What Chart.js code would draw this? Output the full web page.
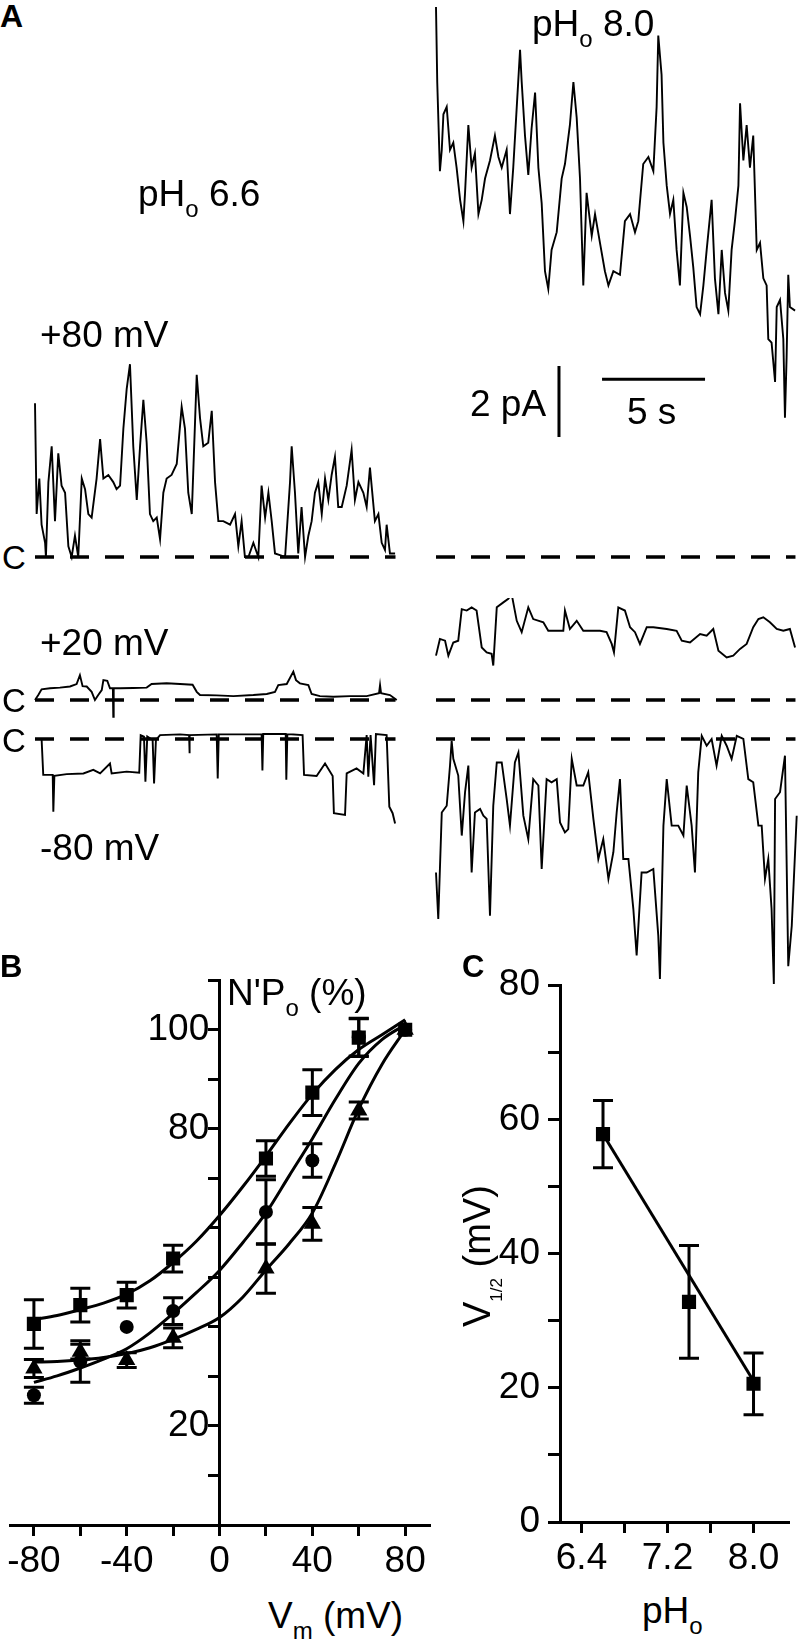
<!DOCTYPE html>
<html>
<head>
<meta charset="utf-8">
<script src="https://cdn.jsdelivr.net/npm/chart.js@4.4.1/dist/chart.umd.min.js"></script>
<style>
  html, body { margin: 0; padding: 0; background: #fff; }
  #fig { position: relative; width: 799px; height: 1639px; overflow: hidden; background: #fff;
         font-family: "Liberation Sans", Arial, Helvetica, sans-serif; color: #000; }
  #fig canvas { position: absolute; }
  .lbl { position: absolute; white-space: nowrap; line-height: 1; z-index: 5; }
  .lbl .sub { position: relative; }
</style>
</head>
<body>
<div id="fig"></div>
<script>
// ---- DATA ----

// panel A, single channel traces: [time (s), current (pA)] relative to closed level
const trace66p80 = [[0,4.33],[0.08,1.21],[0.21,2.21],[0.32,0.91],[0.49,0.40],[0.53,0],[0.65,2.11],[0.81,3.12],[0.97,1.01],[1.13,2.92],[1.29,2.01],[1.46,1.81],[1.62,0.30],[1.78,0],[1.94,0.60],[2.10,0],[2.27,2.21],[2.43,1.91],[2.59,1.21],[2.75,1.11],[2.99,2.21],[3.16,3.32],[3.32,2.21],[3.56,2.31],[3.80,2.11],[3.96,1.91],[4.13,2.01],[4.29,3.62],[4.45,4.73],[4.61,5.43],[4.77,3.12],[4.94,1.61],[5.10,3.12],[5.26,4.43],[5.42,3.22],[5.58,1.21],[5.74,1.01],[5.91,1.11],[6.07,0.50],[6.23,1.81],[6.39,2.21],[6.63,2.31],[6.88,2.62],[7.12,4.23],[7.28,3.62],[7.44,1.81],[7.61,1.21],[7.77,3.82],[7.85,5.13],[8.01,3.92],[8.17,3.12],[8.41,3.22],[8.58,4.12],[8.74,2.11],[8.90,1.01],[9.14,1.01],[9.47,0.91],[9.71,1.21],[9.87,0.30],[10.03,1.01],[10.19,0],[10.36,0],[10.60,0.40],[10.84,0],[11.00,2.01],[11.17,1.11],[11.33,1.81],[11.49,1.01],[11.65,0.10],[11.89,0.05],[12.14,0],[12.38,2.11],[12.46,3.12],[12.62,1.81],[12.78,0.10],[12.94,1.41],[13.11,0],[13.27,0.60],[13.43,1.01],[13.59,1.81],[13.75,2.11],[13.92,1.21],[14.08,2.21],[14.24,1.61],[14.40,2.31],[14.56,2.82],[14.72,1.41],[14.89,1.41],[15.13,2.01],[15.37,3.02],[15.53,1.61],[15.70,2.11],[15.94,1.81],[16.10,1.41],[16.26,2.52],[16.50,1.01],[16.67,1.21],[16.83,0.40],[16.99,0.20],[17.07,0.91],[17.23,0.10],[17.48,0.10]];

const trace80p80 = [[0,15.49],[0.06,13.38],[0.19,10.87],[0.28,11.47],[0.36,12.47],[0.52,12.68],[0.68,11.47],[0.84,11.67],[1.00,10.97],[1.17,10.06],[1.33,9.46],[1.41,10.26],[1.57,12.17],[1.73,10.97],[1.89,11.37],[2.06,9.66],[2.22,10.06],[2.38,10.66],[2.62,11.17],[2.86,11.87],[3.03,11.27],[3.19,10.97],[3.43,11.47],[3.59,9.66],[3.75,10.97],[3.92,12.68],[4.08,14.29],[4.16,13.38],[4.32,11.87],[4.48,10.76],[4.64,12.07],[4.81,13.08],[4.97,10.97],[5.13,9.96],[5.29,8.05],[5.45,7.55],[5.61,8.65],[5.86,9.15],[6.10,10.66],[6.26,11.07],[6.50,12.17],[6.67,13.38],[6.83,12.37],[6.99,10.66],[7.15,7.65],[7.31,10.26],[7.56,9.05],[7.72,9.66],[7.96,8.85],[8.20,8.05],[8.37,7.65],[8.61,8.05],[8.93,7.95],[9.17,9.46],[9.42,9.66],[9.66,9.15],[9.82,9.46],[10.06,11.07],[10.31,11.27],[10.55,10.87],[10.71,12.68],[10.79,14.69],[10.95,13.58],[11.04,11.67],[11.20,10.46],[11.36,9.66],[11.52,10.06],[11.68,8.65],[11.84,7.65],[12.01,10.26],[12.17,9.86],[12.33,9.05],[12.49,8.15],[12.65,7.04],[12.82,6.84],[12.98,7.65],[13.14,8.65],[13.38,10.06],[13.54,7.85],[13.71,6.84],[13.87,8.65],[14.03,7.44],[14.19,6.94],[14.35,8.65],[14.51,9.46],[14.68,10.46],[14.76,12.78],[14.92,11.17],[15.08,12.17],[15.24,10.97],[15.40,11.87],[15.57,8.65],[15.73,8.85],[15.89,7.85],[16.05,7.65],[16.13,6.14],[16.29,6.04],[16.46,4.93],[16.54,7.04],[16.70,7.24],[16.86,6.14],[16.94,3.92],[17.02,5.63],[17.10,7.95],[17.18,7.04],[17.43,6.94]];

const trace66p20 = [[0,0],[0.16,0.14],[0.32,0.30],[0.73,0.33],[1.21,0.35],[1.70,0.38],[2.02,0.45],[2.18,0.70],[2.31,0.39],[2.51,0.38],[2.75,0.23],[2.91,0],[3.07,0.14],[3.24,0.28],[3.32,0.56],[3.51,0.54],[3.64,0.33],[3.78,0.33],[3.80,-0.47],[3.82,0.33],[4.13,0.33],[4.77,0.34],[5.42,0.35],[5.66,0.45],[6.39,0.47],[7.04,0.45],[7.65,0.43],[7.85,0.23],[8.01,0.14],[8.82,0.13],[9.63,0.11],[10.60,0.14],[11.25,0.17],[11.65,0.23],[11.81,0.42],[12.22,0.45],[12.54,0.80],[12.67,0.56],[12.86,0.47],[13.27,0.42],[13.43,0.17],[13.83,0.11],[14.48,0.09],[15.29,0.11],[16.10,0.11],[16.70,0.19],[16.75,0.42],[16.80,0.19],[17.23,0.14],[17.56,0]];

const trace80p20 = [[0,1.25],[0.19,1.72],[0.44,1.67],[0.60,1.25],[0.84,1.62],[1.08,1.67],[1.25,2.56],[1.49,2.52],[1.73,2.61],[1.97,2.52],[2.22,1.48],[2.46,1.34],[2.70,1.30],[2.78,0.97],[2.95,2.61],[3.27,2.75],[3.51,2.85],[3.67,2.99],[3.92,2.23],[4.16,1.91],[4.48,2.61],[4.72,2.28],[5.21,2.19],[5.45,1.95],[6.18,1.95],[6.26,2.52],[6.50,2.00],[6.83,2.23],[7.15,1.95],[7.96,1.95],[8.28,1.91],[8.53,1.58],[8.64,1.34],[8.85,2.61],[9.17,2.52],[9.42,2.05],[9.66,1.91],[9.90,1.58],[10.23,2.05],[10.55,2.05],[11.20,2.00],[11.68,1.95],[11.93,1.67],[12.33,1.62],[12.82,1.86],[13.14,1.81],[13.46,2.00],[13.71,1.39],[14.11,1.20],[14.43,1.25],[14.76,1.44],[15.08,1.58],[15.40,2.05],[15.65,2.28],[15.89,2.33],[16.21,2.19],[16.54,2.00],[16.86,1.95],[17.18,2.00],[17.43,1.48]];

const trace66m80 = [[0,0],[0.32,0],[0.40,-1.01],[0.86,-1.01],[0.89,-2.05],[0.94,-1.04],[1.54,-0.99],[2.35,-0.97],[2.83,-0.87],[3.16,-0.97],[3.64,-0.69],[3.72,-0.97],[4.45,-0.92],[5.06,-0.95],[5.13,0.11],[5.29,0.07],[5.36,-1.20],[5.45,0.07],[5.71,-0.03],[5.78,-1.25],[5.87,-0.03],[6.07,0.11],[7.04,0.13],[7.48,0.11],[7.49,-0.40],[7.52,0.11],[8.82,0.13],[8.87,-1.11],[8.92,0.13],[11.00,0.14],[11.04,-0.89],[11.08,0.14],[12.17,0.14],[12.20,-1.15],[12.25,0.14],[12.99,0.11],[13.06,-1.01],[13.67,-1.04],[14.08,-0.69],[14.45,-1.04],[14.51,-2.09],[15.05,-2.14],[15.13,-0.97],[15.61,-0.83],[15.94,-0.97],[16.10,0.11],[16.18,-1.06],[16.29,0.11],[16.46,-1.30],[16.55,0.14],[17.07,0.11],[17.20,-1.91],[17.36,-2.09],[17.48,-2.38]];

const trace80m80 = [[0,-3.76],[0.11,-5.07],[0.28,-2.07],[0.52,-1.88],[0.68,-0.75],[0.76,-0.05],[0.84,-0.56],[1.08,-1.03],[1.25,-2.72],[1.41,-1.50],[1.57,-0.75],[1.73,-3.76],[1.89,-2.07],[2.14,-1.97],[2.30,-2.16],[2.46,-2.25],[2.62,-4.98],[2.78,-1.88],[2.95,-0.66],[3.19,-0.66],[3.43,-1.69],[3.59,-2.44],[3.83,-0.66],[4.00,-0.38],[4.24,-2.16],[4.48,-2.82],[4.72,-1.13],[4.97,-1.31],[5.13,-3.66],[5.37,-1.13],[5.61,-1.22],[5.86,-1.13],[6.02,-2.35],[6.26,-2.63],[6.42,-2.54],[6.59,-0.56],[6.83,-1.31],[7.15,-1.31],[7.39,-0.94],[7.64,-2.25],[7.88,-3.38],[8.12,-2.82],[8.37,-3.94],[8.61,-3.19],[8.77,-2.07],[8.93,-1.13],[9.09,-3.38],[9.34,-3.38],[9.58,-4.79],[9.74,-6.10],[9.98,-3.76],[10.23,-3.76],[10.55,-3.66],[10.79,-5.54],[10.87,-6.76],[11.04,-2.44],[11.20,-1.13],[11.44,-2.44],[11.76,-2.44],[12.01,-2.72],[12.17,-1.31],[12.41,-2.44],[12.57,-3.76],[12.73,-0.94],[12.90,0.09],[13.14,-0.19],[13.38,0],[13.62,-0.75],[13.87,0.09],[14.11,-0.19],[14.35,-0.56],[14.60,0.09],[14.92,0],[15.16,-1.13],[15.40,-1.22],[15.65,-2.44],[15.81,-2.44],[15.97,-3.94],[16.13,-3.38],[16.29,-4.79],[16.40,-6.90],[16.46,-1.69],[16.70,-1.50],[16.94,-0.47],[17.10,-6.40],[17.27,-5.26],[17.51,-2.16]];

// panel B, N'Po (%) vs Vm (mV)
const vmPoints = [-80, -60, -40, -20, 20, 40, 60, 80];
const npoSquare = [40.6, 44.4, 46.4, 53.8, 74.0, 87.3, 98.4, 100];
const npoSquareErr = [4.9, 3.4, 2.6, 2.7, 3.6, 4.6, 3.8, 0];
const npoCircle = [26.2, 33.0, 40.0, 43.2, 63.2, 73.6, 98.5, 100];
const npoCircleErr = [1.6, 4.2, 0, 2.7, 6.5, 3.4, 3.8, 0];
const npoTriangle = [31.6, 35.0, 33.3, 37.8, 51.8, 60.8, 83.7, 100];
const npoTriangleErr = [1.8, 1.5, 1.5, 2.0, 5.0, 3.3, 1.7, 0];

const vmFit = [-80, -70, -60, -50, -40, -30, -20, -10, 0, 10, 20, 30, 40, 50, 60, 70, 80];
const fitSquare = [41.5, 42.3, 43.5, 44.8, 46.6, 49.3, 53.0, 57.3, 62.5, 68.3, 74.5, 81.0, 87.0, 92.0, 96.0, 99.0, 102.0];
const fitCircle = [28.8, 30.1, 31.7, 33.5, 35.6, 38.8, 42.7, 46.9, 51.4, 57.0, 63.0, 70.5, 78.0, 86.0, 93.2, 98.0, 101.0];
const fitTriangle = [32.9, 33.0, 33.3, 33.8, 34.6, 35.8, 37.5, 39.5, 41.9, 46.0, 51.5, 56.8, 63.0, 73.0, 84.0, 93.0, 100.0];

// panel C, V1/2 (mV) vs pHo
const phPoints = [6.6, 7.4, 8.0];
const vHalf = [57.8, 32.8, 20.6];
const vHalfErr = [5.0, 8.4, 4.6];
const phFit = [6.6, 8.0];
const vHalfFit = [57.8, 21.0];

// ---- LAYOUT ----
const FONT = '"Liberation Sans", Arial, Helvetica, sans-serif';
Chart.defaults.font.family = FONT;
Chart.defaults.font.size = 37;
Chart.defaults.color = '#000';

const fig = document.getElementById('fig');
const PX_PER_S = 20.6;
const PX_PER_PA = 35.5;

const cols = {
  left:  { left: 28,  width: 376, x0: 35,  dashEnd: 17.5 },
  right: { left: 429, width: 370, x0: 436, dashEnd: 17.45 }
};
const rows = {
  p80: { top: 0,   height: 578, closedY: 557 },
  p20: { top: 598, height: 130, closedY: 700 },
  m80: { top: 728, height: 265, closedY: 739 }
};

function makeCanvas(left, top, w, h) {
  const c = document.createElement('canvas');
  c.width = w; c.height = h;
  c.style.left = left + 'px'; c.style.top = top + 'px';
  c.style.width = w + 'px'; c.style.height = h + 'px';
  fig.appendChild(c);
  return c;
}

const toXY = (xs, ys) => xs.map((x, i) => ({ x: x, y: ys[i] }));

// scale bars, drawn in data units of the pH 8.0 / +80 mV trace
const BAR_T = 5.97, BAR_I = 3.38, BAR_PA = 2;
const BAR_T0 = 8.06, BAR_S = 5, BAR_IH = 5.01;
const scaleBars = {
  id: 'scaleBars',
  afterDatasetsDraw(chart) {
    const { ctx, scales: { x, y } } = chart;
    ctx.save();
    ctx.strokeStyle = '#000';
    ctx.lineWidth = 3;
    ctx.beginPath();
    ctx.moveTo(x.getPixelForValue(BAR_T), y.getPixelForValue(BAR_I));
    ctx.lineTo(x.getPixelForValue(BAR_T), y.getPixelForValue(BAR_I + BAR_PA));
    ctx.moveTo(x.getPixelForValue(BAR_T0), y.getPixelForValue(BAR_IH));
    ctx.lineTo(x.getPixelForValue(BAR_T0 + BAR_S), y.getPixelForValue(BAR_IH));
    ctx.stroke();
    ctx.restore();
  }
};

function traceChart(col, row, trace, extra) {
  const canvas = makeCanvas(col.left, row.top, col.width, row.height);
  return new Chart(canvas, {
    type: 'line',
    data: {
      datasets: [
        { data: trace.map(p => ({ x: p[0], y: p[1] })), borderColor: '#000', borderWidth: 1.9,
          pointRadius: 0, tension: 0 },
        { data: [{ x: 0, y: 0 }, { x: col.dashEnd, y: 0 }], borderColor: '#000', borderWidth: 3.5,
          borderDash: [19, 16], pointRadius: 0 }
      ]
    },
    options: {
      responsive: false, animation: false, events: [],
      layout: { padding: 0 },
      plugins: { legend: { display: false }, tooltip: { enabled: false } },
      scales: {
        x: { type: 'linear', display: false,
             min: (col.left - col.x0) / PX_PER_S, max: (col.left + col.width - col.x0) / PX_PER_S },
        y: { type: 'linear', display: false,
             min: (row.closedY - row.top - row.height) / PX_PER_PA, max: (row.closedY - row.top) / PX_PER_PA }
      }
    },
    plugins: extra || []
  });
}

traceChart(cols.left, rows.p80, trace66p80);
traceChart(cols.right, rows.p80, trace80p80, [scaleBars]);
traceChart(cols.left, rows.p20, trace66p20);
traceChart(cols.right, rows.p20, trace80p20);
traceChart(cols.left, rows.m80, trace66m80);
traceChart(cols.right, rows.m80, trace80m80);

// error bars from dataset.errors
const errorBars = {
  id: 'errorBars',
  afterDatasetsDraw(chart) {
    const { ctx, scales: { x, y } } = chart;
    ctx.save();
    ctx.strokeStyle = '#000';
    ctx.lineWidth = 3;
    chart.data.datasets.forEach(ds => {
      if (!ds.errors) return;
      ds.data.forEach((p, i) => {
        const e = ds.errors[i];
        if (!e) return;
        const px = x.getPixelForValue(p.x);
        const top = y.getPixelForValue(p.y + e);
        const bot = y.getPixelForValue(p.y - e);
        ctx.beginPath();
        ctx.moveTo(px, top); ctx.lineTo(px, bot);
        ctx.moveTo(px - 10, top); ctx.lineTo(px + 10, top);
        ctx.moveTo(px - 10, bot); ctx.lineTo(px + 10, bot);
        ctx.stroke();
      });
    });
    ctx.restore();
  }
};

const axisLine = { color: '#000', width: 3 };
const tickGrid = len => ({ drawOnChartArea: false, drawTicks: true, tickLength: len, tickWidth: 3,
                           tickColor: '#000', color: '#000' });

// panel B
new Chart(makeCanvas(0, 955, 440, 635), {
  type: 'scatter',
  data: {
    datasets: [
      { data: toXY(vmPoints, npoSquare), errors: npoSquareErr, pointStyle: 'rect', pointRadius: 10,
        backgroundColor: '#000', borderWidth: 0 },
      { data: toXY(vmPoints, npoCircle), errors: npoCircleErr, pointStyle: 'circle', pointRadius: 7,
        backgroundColor: '#000', borderWidth: 0 },
      { data: toXY(vmPoints, npoTriangle), errors: npoTriangleErr, pointStyle: 'triangle', pointRadius: 10,
        backgroundColor: '#000', borderWidth: 0 },
      { data: toXY(vmFit, fitSquare), showLine: true, pointRadius: 0, borderColor: '#000', borderWidth: 3,
        cubicInterpolationMode: 'monotone' },
      { data: toXY(vmFit, fitCircle), showLine: true, pointRadius: 0, borderColor: '#000', borderWidth: 3,
        cubicInterpolationMode: 'monotone' },
      { data: toXY(vmFit, fitTriangle), showLine: true, pointRadius: 0, borderColor: '#000', borderWidth: 3,
        cubicInterpolationMode: 'monotone' }
    ]
  },
  options: {
    responsive: false, animation: false, events: [],
    layout: { padding: { left: 5, right: 8, top: 24.4, bottom: 0 } },
    plugins: { legend: { display: false }, tooltip: { enabled: false } },
    scales: {
      x: {
        type: 'linear', position: 'bottom', min: -90.3, max: 90.7,
        border: axisLine, grid: tickGrid(11),
        ticks: { stepSize: 20, includeBounds: false, autoSkip: false, maxRotation: 0, padding: 4,
                 callback: v => (v % 40 === 0 ? String(v) : '') },
        afterFit: s => { s.height = 65; }
      },
      y: {
        type: 'linear', position: { x: 0 }, min: 0, max: 110,
        border: axisLine, grid: tickGrid(10),
        // trailing space keeps the right-aligned label clear of the tick mark
        ticks: { stepSize: 10, autoSkip: false,
                 callback: v => ([20, 80, 100].includes(v) ? v + ' ' : '') }
      }
    }
  },
  plugins: [errorBars]
});

// panel C
new Chart(makeCanvas(490, 955, 309, 632), {
  type: 'scatter',
  data: {
    datasets: [
      { data: toXY(phPoints, vHalf), errors: vHalfErr, pointStyle: 'rect', pointRadius: 10,
        backgroundColor: '#000', borderWidth: 0 },
      { data: toXY(phFit, vHalfFit), showLine: true, pointRadius: 0, borderColor: '#000', borderWidth: 3 }
    ]
  },
  options: {
    responsive: false, animation: false, events: [],
    layout: { padding: { left: 0, right: 7, top: 28, bottom: 0 } },
    plugins: { legend: { display: false }, tooltip: { enabled: false } },
    scales: {
      x: {
        type: 'linear', position: 'bottom', min: 6.2, max: 8.33,
        border: axisLine, grid: tickGrid(11),
        ticks: { stepSize: 0.4, includeBounds: false, autoSkip: false, maxRotation: 0, padding: 4,
                 callback: v => { const r = Math.round(v * 10); return (r - 64) % 8 === 0 ? (r / 10).toFixed(1) : ''; } },
        afterFit: s => { s.height = 65; }
      },
      y: {
        type: 'linear', position: 'left', min: 0, max: 80,
        border: axisLine, grid: tickGrid(12),
        ticks: { stepSize: 10, autoSkip: false, padding: 8,
                 callback: v => (v % 20 === 0 ? String(v) : '') },
        afterFit: s => { s.width = 70; }
      }
    }
  },
  plugins: [errorBars]
});

// ---- TEXT ----
const SUB = '<span class="sub" style="font-size:24px;top:11px">';
const labels = [
  ['<b>A</b>', 0, 27, 32],
  ['pH' + SUB + 'o</span> 8.0', 532, 36, 37],
  ['pH' + SUB + 'o</span> 6.6', 138, 206, 37],
  ['+80 mV', 40, 347, 37],
  ['+20 mV', 40, 655, 37],
  ['-80 mV', 40, 860, 37],
  ['2 pA', 470, 416, 37],
  ['5 s', 627, 424, 37],
  ['C', 2, 569, 33],
  ['C', 2, 712, 33],
  ['C', 2, 752, 33],
  ['<b>B</b>', 0, 977, 31],
  ['<b>C</b>', 462, 977, 31],
  ['N\'P' + SUB + 'o</span> (%)', 227, 1005, 37],
  ['V' + SUB + 'm</span> (mV)', 268, 1628, 37],
  ['pH' + SUB + 'o</span>', 642, 1623, 37]
];
labels.forEach(([html, x, base, size]) => {
  const d = document.createElement('div');
  d.className = 'lbl';
  d.innerHTML = html;
  d.style.fontSize = size + 'px';
  d.style.left = x + 'px';
  d.style.top = (base - 0.8465 * size) + 'px';
  fig.appendChild(d);
});

// rotated y title of panel C
const rot = document.createElement('div');
rot.style.cssText = 'position:absolute;left:490px;top:1327px;width:0;height:0;transform:rotate(-90deg);transform-origin:0 0;z-index:5';
const inner = document.createElement('div');
inner.className = 'lbl';
inner.style.cssText += 'font-size:38px;left:0;top:' + (-0.8465 * 38) + 'px';
inner.innerHTML = 'V<span class="sub" style="font-size:17px;top:12px">1/2</span> (mV)';
rot.appendChild(inner);
fig.appendChild(rot);
</script>
</body>
</html>
